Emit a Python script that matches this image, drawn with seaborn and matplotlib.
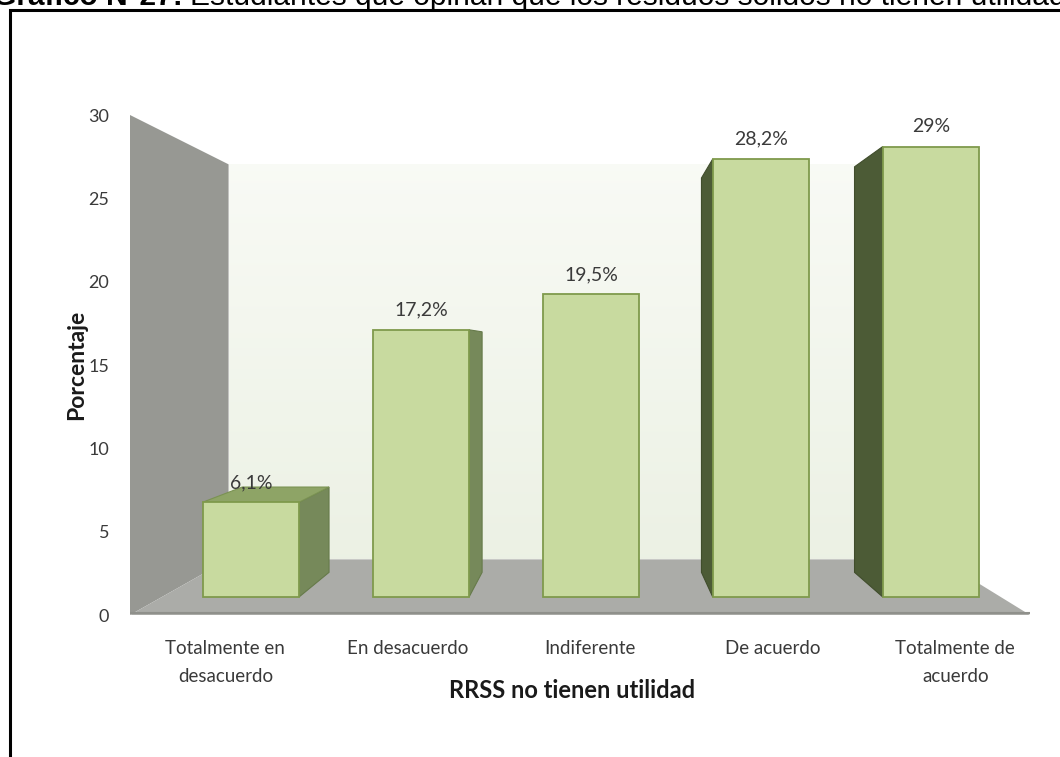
import matplotlib
matplotlib.use("Agg")
import matplotlib.pyplot as plt
from matplotlib.patches import Polygon, Rectangle
import numpy as np
import pandas as pd
import seaborn as sns

# ---- data -------------------------------------------------------------
categorias = ["Totalmente en\ndesacuerdo", "En desacuerdo", "Indiferente",
              "De acuerdo", "Totalmente de\nacuerdo"]
porcentajes = [6.1, 17.2, 19.5, 28.2, 29.0]
etiquetas = ["6,1%", "17,2%", "19,5%", "28,2%", "29%"]
y_ticks = [0, 5, 10, 15, 20, 25, 30]

titulo_negrita = "Gráfico N°27:"
titulo = "Estudiantes que opinan que los residuos sólidos no tienen utilidad"
eje_x = "RRSS no tienen utilidad"
eje_y = "Porcentaje"

df = pd.DataFrame({"respuesta": categorias, "porcentaje": porcentajes})

sns.set_theme(style="white")
plt.rcParams["font.family"] = ["Lato", "DejaVu Sans"]

W, H = 1060, 757
fig = plt.figure(figsize=(W / 100, H / 100), dpi=100)
fig.patch.set_facecolor("white")

# front plane of the 3-D box (category units x percent)
XL, XR = -0.523, 4.41
YB, YT = 0, 30
pos = [130 / W, (H - 615) / H, 900 / W, 500 / H]

# perspective: vanishing point and depth factors
VX, VY = 2.05, 15.9
S_WALL, S_FRONT, S_BACK = 0.79, 0.932, 0.839
BAR_W = 0.567


def proj(x, y, s):
    return (VX + s * (x - VX), VY + s * (y - VY))


ax = fig.add_axes(pos)
ax.set_xlim(XL, XR)
ax.set_ylim(YB, YT)
ax.set_facecolor("none")
for sp in ax.spines.values():
    sp.set_visible(False)

# back wall with a soft vertical gradient
back = [proj(XL, YB, S_WALL), proj(XR, YB, S_WALL),
        proj(XR, YT, S_WALL), proj(XL, YT, S_WALL)]
bx0, by0 = back[0]
bx1, by1 = back[2]
grad = np.linspace(0, 1, 256)[:, None]
c_bot = np.array([0.925, 0.945, 0.895])
c_top = np.array([0.975, 0.982, 0.962])
img = c_bot + (c_top - c_bot) * grad[..., None] * np.ones((1, 2, 1))
im = ax.imshow(img, extent=(bx0, bx1, by0, by1), origin="lower",
               aspect="auto", zorder=0.5, interpolation="bilinear")
im.set_clip_path(Polygon(back, closed=True, transform=ax.transData))

# left wall and floor
ax.add_patch(Polygon([(XL, YB), (XL, YT), proj(XL, YT, S_WALL), proj(XL, YB, S_WALL)],
                     closed=True, facecolor="#979893", edgecolor="none", zorder=1))
ax.add_patch(Polygon([(XL, YB), (XR, YB), proj(XR, YB, S_WALL), proj(XL, YB, S_WALL)],
                     closed=True, facecolor="#abaca8", edgecolor="none", zorder=1))
ax.plot([XL, XR], [YB + 0.12, YB + 0.12], color="#8f908b", lw=1.5, zorder=1.1,
        solid_capstyle="butt")
ax.set_xlim(XL, XR)
ax.set_ylim(YB, YT)

# side and top faces of the bars
for i, v in enumerate(porcentajes):
    x0, x1 = i - BAR_W / 2, i + BAR_W / 2
    if x1 < VX:
        face = [proj(x1, 0, S_FRONT), proj(x1, v, S_FRONT),
                proj(x1, v, S_BACK), proj(x1, 0, S_BACK)]
        ax.add_patch(Polygon(face, closed=True, facecolor="#76895a",
                             edgecolor="#667a4a", lw=0.8, zorder=2))
    if x0 > VX:
        face = [proj(x0, 0, S_FRONT), proj(x0, v, S_FRONT),
                proj(x0, v, S_BACK), proj(x0, 0, S_BACK)]
        ax.add_patch(Polygon(face, closed=True, facecolor="#4c5b36",
                             edgecolor="#404d2c", lw=0.8, zorder=2))
    if v < VY:
        face = [proj(x0, v, S_FRONT), proj(x1, v, S_FRONT),
                proj(x1, v, S_BACK), proj(x0, v, S_BACK)]
        ax.add_patch(Polygon(face, closed=True, facecolor="#8ea466",
                             edgecolor="#7a9252", lw=0.8, zorder=2))

# axis ticks and labels
txt = "#3a3a3a"
ax.set_yticks(y_ticks)
ax.set_yticklabels([str(t) for t in y_ticks], fontsize=13, color=txt)
ax.set_xticks(range(len(categorias)))
ax.set_xticklabels(categorias, fontsize=13.5, color=txt)
for t in ax.get_xticklabels():
    t.set_linespacing(1.8)
ax.tick_params(axis="y", length=0, pad=15)
ax.tick_params(axis="x", length=0, pad=18)
ax.set_xlabel(eje_x, fontsize=17, fontweight="bold", color="#1a1a1a")
ax.xaxis.set_label_coords((572 - 130) / 900, -0.128)
ax.set_ylabel(eje_y, fontsize=16.5, fontweight="bold", color="#1a1a1a")
ax.yaxis.set_label_coords(-0.048, 0.5)

# front faces: an overlay axes whose scale is the bar plane of the box
ax_bar = fig.add_axes(pos)
ax_bar.set_facecolor("none")
sns.barplot(data=df, x="respuesta", y="porcentaje", width=BAR_W,
            color="#c8da9f", saturation=1, edgecolor="#7f9a4c", linewidth=1.3,
            ax=ax_bar)
ax_bar.set_xlim(VX + (XL - VX) / S_FRONT, VX + (XR - VX) / S_FRONT)
ax_bar.set_ylim(VY + (YB - VY) / S_FRONT, VY + (YT - VY) / S_FRONT)
ax_bar.axis("off")
for i, (v, lab) in enumerate(zip(porcentajes, etiquetas)):
    ax_bar.annotate(lab, (i, v), xytext=(0, 8), textcoords="offset points",
                    ha="center", va="bottom", fontsize=14, color=txt)

# frame and title line
fig.add_artist(Rectangle((10 / W, -0.05), 1.2, (H - 10) / H + 0.05,
                         transform=fig.transFigure, fill=False,
                         edgecolor="black", lw=2.2))
base_y = (H - 5) / H
fig.text(190 / W, base_y, titulo, ha="left", va="baseline",
         fontsize=21.5, family="Liberation Sans", color="black")
fig.text(183 / W, base_y, titulo_negrita, ha="right", va="baseline",
         fontsize=21.5, family="Liberation Sans", fontweight="bold", color="black")

fig.savefig("out.png", dpi=100, facecolor="white")
